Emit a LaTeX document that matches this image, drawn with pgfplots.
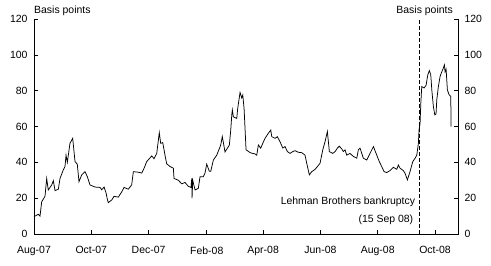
\documentclass[border=0pt]{standalone}
\usepackage{pgfplots}
\pgfplotsset{compat=1.18}
\usepackage{fontspec}
\setmainfont{Liberation Sans}
\begin{document}
\begin{tikzpicture}[x=1bp,y=1bp]
\useasboundingbox (-34,-31) rectangle (457,234);
\pgfplotsset{
  common/.style={
    width=424bp, height=215bp, scale only axis,
    at={(0,0)}, anchor=south west,
    xmin=0, xmax=451.5, ymin=0, ymax=120,
    xtick={0,61,122,184,244,305,366,427},
    xticklabels={Aug-07,Oct-07,Dec-07,Feb-08,Apr-08,Jun-08,Aug-08,Oct-08},
    ytick={0,20,...,120},
    tick align=inside, major tick length=4bp,
    tick style={black, line width=0.6bp},
    axis line style={draw=none},
    ticklabel style={font=\fontsize{10.5}{12}\selectfont},
    /pgf/number format/assume math mode=true,
    clip=false,
  }
}
\begin{axis}[common,
  xtick pos=bottom, ytick pos=left,
  yticklabel style={xshift=-3bp},
  xticklabel style={yshift=-9bp},
]
\draw[black, line width=0.8bp] (rel axis cs:0,1) -- (rel axis cs:0,0) -- (rel axis cs:1,0) -- (rel axis cs:1,1);
\addplot[black, line width=0.75bp] coordinates {
(0,9.7)(4.6,11)(6.4,10)(8.2,18)(11.7,21)(13.5,31)(15.2,24.6)(18.9,27.4)(20.6,29.8)(22.4,24.2)
(25.9,25)(27.7,31)(31.2,35.8)(33,37.6)(34.1,44)(35.5,40)(38.3,50.6)(41.2,53.4)(43.7,40.4)(46.1,39)
(47.9,29.2)(50.8,33)(54.3,34.8)(56.8,32)(59.6,27.4)(65,26.2)(70.3,26)(72.1,24.7)(74.6,26.2)(76.7,23)
(78.1,19.4)(79.1,17.5)(82.8,19)(85.2,21)(89.8,20.6)(93.4,23.5)(95.9,26)(100.4,25)(104,27.4)(105.8,34.8)
(111.1,34.5)(114.7,34)(117.2,36.7)(120,40.4)(125.4,43.6)(127.8,42)(130.7,45)(133.4,56.6)(134.9,50.6)(137.1,51)
(139.5,44)(141.3,39.2)(144.8,37.7)(148.4,36.7)(149.1,31)(153.7,30)(157.3,28)(160.8,28.8)(164.3,26.6)(167.2,26)
(168,31)(168.3,20)(169,30)(171.5,24.6)(175,25.5)(176.8,32)(180.3,32)(182.1,34)(183.9,39)(186.7,35)
(188.2,35)(191,41.3)(194.6,44)(198.8,49.6)(200.5,54.4)(203.4,45.8)(208,49.6)(209.5,58)(210.6,66.5)(211.2,69.3)
(212.3,65.4)(215.9,64.5)(216.9,70)(219.4,79)(221.2,76)(222.3,77.6)(223.7,70)(225.8,47)(230,45.5)(231.9,45.1)
(235.4,44.7)(237.2,44)(238.9,49.7)(241.4,47.9)(243.6,50.6)(246,53.4)(249.5,56.2)(252.1,58)(253.2,54.3)(256.7,53.4)
(259.1,54.3)(262,51.5)(264.9,48)(267.3,48.8)(269.8,46)(272.6,45)(275.5,46)(278,46.5)(281.5,45.6)(285.1,45.4)
(288.6,44)(290.4,39.5)(293.2,33)(295.8,34.8)(299.3,36.1)(301.7,37.6)(304.6,39.5)(307.5,47)(309.9,51.5)(312.4,57.2)
(314.5,46)(318.1,45)(320.6,46)(323,47.9)(325.1,49)(327.7,47.5)(329.4,46)(331.2,47)(333,44)(336.5,45)
(340,43.3)(343.7,42.3)(345.4,47)(347.2,47.9)(350.7,42.3)(354.3,41.3)(357.8,45)(361.4,48.8)(365,44)(367.7,40.4)
(370.3,37.6)(372.8,34.8)(375.6,34.3)(379.1,35.4)(382.7,37.2)(386.3,36.1)(388,38.5)(389.8,36.7)(393.3,35.4)(395.1,33.9)
(397.6,30.2)(400.4,34.8)(403.3,40.4)(405.8,42.3)(407.6,44)(409.3,50.6)(410,58)(411.1,61.8)(411.9,73)(412.9,82.3)
(415.4,81.5)(417.5,83)(419.3,88.8)(421,91.2)(422.5,88.8)(423.6,80.4)(425.3,71)(426.8,66.5)(428.1,67)(428.9,74.9)
(430.6,82.3)(432.4,87.9)(434.2,90.5)(435.9,92.6)(437,94.4)(437.7,90.5)(438.8,92)(440.2,80.4)(442,77.7)(443.8,76.8)
(444.1,60)
};
\addplot[black, line width=0.75bp, dash pattern=on 4bp off 2bp] coordinates {(410,0)(410,120)};
\node[anchor=base west, inner sep=0, font=\fontsize{10.5}{12}\selectfont] at (axis cs:0,120) [yshift=5bp] {Basis points};
\node[anchor=base east, inner sep=0, font=\fontsize{10.5}{12}\selectfont] at (axis cs:451.5,120) [xshift=-5bp, yshift=5bp] {Basis points};
\node[anchor=east, inner sep=0, font=\fontsize{10.5}{12}\selectfont] at (axis cs:406,18) {Lehman Brothers bankruptcy};
\node[anchor=east, inner sep=0, font=\fontsize{10.5}{12}\selectfont] at (axis cs:404,8) {(15 Sep 08)};
\end{axis}
\begin{axis}[common,
  xtick pos=bottom, xticklabels={}, xtick=\empty,
  ytick pos=right, yticklabel pos=right,
  yticklabel style={xshift=3bp},
]
\addplot[draw=none] coordinates {(0,0)};
\end{axis}
\end{tikzpicture}
\end{document}
